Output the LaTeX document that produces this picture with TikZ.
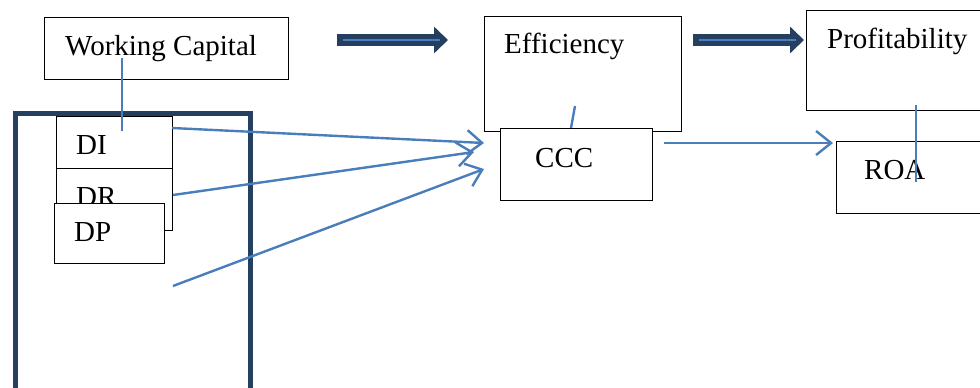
\documentclass[tikz,border=0pt]{standalone}
\usepackage{fontspec}
\setmainfont{Liberation Serif}
\usetikzlibrary{arrows.meta}
\definecolor{navy}{HTML}{243F60}
\definecolor{lblue}{HTML}{4A7EBB}
\begin{document}
\begin{tikzpicture}[x=1pt,y=-1pt,
  box/.style={draw=black,line width=1.4pt,fill=white,inner sep=0pt,anchor=north west},
  lbl/.style={anchor=base west,inner sep=0pt,font=\fontsize{29}{34}\selectfont},
  conn/.style={draw=lblue,line width=2.4pt},
  arr/.style={conn,-{Straight Barb[length=15pt,width=24pt,line width=2.4pt]}},
  blockarrow/.style={draw=navy,line width=12.5pt,-{Triangle[length=14pt,width=26pt]}},
]
\useasboundingbox (0,0) rectangle (980,388);
% big frame
\node[draw=navy,line width=5.5pt,inner sep=0pt,anchor=north west,minimum width=235pt,minimum height=300pt] (frame) at (12.5,110.5) {};
% working capital
\node[box,minimum width=244pt,minimum height=62pt] (wc) at (44,17) {};
\node[lbl] (wct) at (65,55) {Working Capital};
% DI, DR, DP
\node[box,minimum width=116pt,minimum height=52pt] (di) at (56,116) {};
\node[box,minimum width=116pt,minimum height=62pt] (dr) at (56,168) {};
\node[lbl] (drt) at (76,206) {DR};
\node[box,minimum width=110pt,minimum height=60pt] (dp) at (54,203) {};
\node[lbl] (dit) at (76,154) {DI};
\node[lbl] (dpt) at (74,241) {DP};
% line WC -> DI
\coordinate (wcs) at (122,58);
\coordinate (dil) at (122,131);
\draw[conn] (wcs) -- (dil);
% efficiency and CCC
\node[box,minimum width=197pt,minimum height=115pt] (eff) at (484,16) {};
\node[lbl] (efft) at (504,53) {Efficiency};
\node[box,minimum width=152pt,minimum height=72pt] (ccc) at (500,128) {};
\node[lbl] (ccct) at (535,167) {CCC};
\coordinate (cccu) at (571,128);
\coordinate (effl) at (575,106);
\draw[conn] (cccu) -- (effl);
% arrows to CCC
\coordinate (s1) at (172,128);
\coordinate (t1) at (484,143);
\coordinate (s2) at (173,195);
\coordinate (t2) at (474,152);
\coordinate (s3) at (173,286);
\coordinate (t3) at (484,169);
\draw[arr] (s1) -- (t1);
\draw[arr] (s2) -- (t2);
\draw[arr] (s3) -- (t3);
% profitability and ROA
\node[box,minimum width=190pt,minimum height=100pt] (prof) at (806,10) {};
\node[lbl] (proft) at (827,48) {Profitability};
\node[box,minimum width=160pt,minimum height=72pt] (roa) at (836,141) {};
\node[lbl] (roat) at (864,179) {ROA};
\coordinate (profl) at (916,105);
\coordinate (roal) at (916,182);
\draw[conn] (profl) -- (roal);
\coordinate (cccr) at (664,143);
\coordinate (roaw) at (833,143);
\draw[arr] (cccr) -- (roaw);
% block arrows
\coordinate (b1s) at (337,40);
\coordinate (b1e) at (448,40);
\coordinate (b1a) at (343,40);
\coordinate (b1b) at (440,40);
\draw[blockarrow] (b1s) -- (b1e);
\draw[draw=lblue,line width=2pt] (b1a) -- (b1b);
\coordinate (b2s) at (693,40);
\coordinate (b2e) at (804,40);
\coordinate (b2a) at (699,40);
\coordinate (b2b) at (796,40);
\draw[blockarrow] (b2s) -- (b2e);
\draw[draw=lblue,line width=2pt] (b2a) -- (b2b);
\end{tikzpicture}
\end{document}
